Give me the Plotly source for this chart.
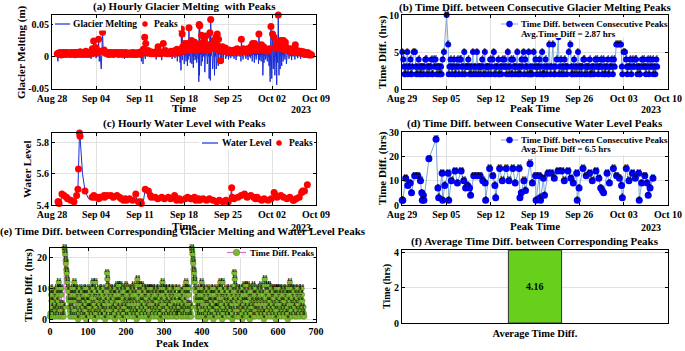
import plotly.graph_objects as go
import pandas as pd

FONT = "Liberation Serif"

# ---------------- (a)/(b) Glacier melting peaks ----------------
# hours between consecutive glacier-melting peaks (panel b values)
b_diffs = [
    5,4,3,2,2,3,5, 2,3,3,4,2,2,3,5, 5,3,2,3,2,4,3,2, 3,2,3,3,2,3,4,4,
    2,3,3,2,3,3,4,2,2, 4,3,4,3,2,3,3,2, 3,2,3,2,4,5, 10,6,
    2,3,4,3,2,3,4,3, 2,2,3,4,3,2,4,4, 3,2,3,5,2,3,3,3, 4,3,2,3,2,3,5,2,
    3,3,2,5,3,2,3,3, 2,3,4,3,2,5,2,3, 3,3,2,3,4,2,3,4, 5,2,3,2,3,3,4,2,
    2,3,3,2,4,3,4,3, 3,2,5,3,2,3,4,2, 2,4,3,3,2,3,5,2, 3,2,3,2,4,3,5,2,
    4,3,3,2,5,2,3,2, 2,3,2,5,3,4,3,2, 3,3,4,2,3,5,2,2,
    3,2,4,3,2,3,6, 3,2,3,6, 3,2,2,3,4,7, 2,3,4,2,3,3,2,4,3, 3,2,3,5,6,3,2,
    2,3,4,2,3,3,2,5, 3,2,3,3,2,3,4,4, 2,3,3,2,3,3,4,2,2, 3,2,3,3,2,4,3,4,
    3,2,3,3,4,3,2,4, 3,2,2,3,3,4,2, 2,3,3,4,3,2,4,3, 6,6,6,6, 3,2,5,5,4,3,
    2,3,3,4,3,2,4,3, 3,4,4,3,2,3,3,2, 2,3,4,3,4,3, 3,2,3,4,3,2,4,3,
    3,4,2,3,3,2,4,3,
]
# glacier melting value (m) at each peak (panel a red markers)
a_peaks = [
    0.004,
    0.005,0.003,0.006,0.004,0.002,0.005,0.006,
    0.004,0.006,0.003,0.005,0.006,0.004,0.005,0.003,
    0.006,0.004,0.005,0.003,0.006,0.005,0.004,0.006,
    0.005,0.003,0.006,0.004,0.005,0.007,0.003,0.005,
    0.004,0.006,0.005,0.003,0.008,0.005,0.004,0.006,0.003,
    0.005,0.007,0.004,0.012,0.006,0.024,0.005,0.007,
    0.014,0.006,0.009,0.005,0.027,0.008,
    0.038,0.010,
    0.007,0.005,0.006,0.004,0.005,0.003,0.006,0.004,
    0.005,0.004,0.006,0.003,0.005,0.004,0.006,0.005,
    0.004,0.006,0.003,0.005,0.004,0.006,0.005,0.003,
    0.005,0.003,0.006,0.004,0.005,0.003,0.005,0.004,
    0.004,0.005,0.003,0.006,0.004,0.005,0.003,0.005,
    0.003,0.005,0.004,0.006,0.005,0.003,0.007,0.005,
    0.006,0.011,0.007,0.030,0.020,0.007,0.005,0.009,
    0.006,0.005,0.007,0.004,0.005,0.006,0.004,0.005,
    0.005,0.007,0.004,0.006,0.015,0.005,0.007,0.004,
    0.006,0.005,0.020,0.007,0.005,0.009,0.006,0.004,
    0.005,0.006,0.004,0.007,0.005,0.008,0.006,0.005,
    0.007,0.005,0.009,0.006,0.011,0.005,0.008,0.006,
    0.010,0.043,0.035,0.015,0.008,0.020,0.012,0.009,
    0.012,0.020,0.009,0.045,0.015,0.010,0.025,0.012,
    0.015,0.010,0.022,0.012,0.018,0.010,0.015,0.010,
    0.050,0.048,0.020,0.033,0.015,0.012,0.025,
    0.010,0.032,0.015,0.012,
    0.018,0.010,0.037,0.058,0.015,0.020,
    0.025,0.012,0.030,0.020,0.035,0.010,0.027,0.015,-0.007,
    0.012,0.008,0.015,0.010,0.013,0.008,0.010,
    0.008,0.006,0.010,0.007,0.008,0.006,0.009,0.007,
    0.008,0.010,0.007,0.009,0.006,0.012,0.008,0.010,
    0.009,0.007,0.027,0.010,0.008,0.012,0.007,0.009,0.008,
    0.010,0.008,0.012,0.009,0.011,0.008,0.015,0.010,
    0.020,0.012,0.010,0.020,0.015,0.009,0.012,0.010,
    0.035,0.015,0.012,0.010,0.018,0.012,0.010,
    0.015,0.010,0.012,0.009,0.011,0.008,0.010,0.012,
    0.047,0.035,0.030,0.015,
    0.012,0.022,0.065,0.018,0.025,0.012,
    0.020,0.012,0.025,0.010,0.022,0.015,0.010,0.012,
    0.009,0.008,0.012,0.007,0.010,0.008,0.009,0.006,
    0.008,0.018,0.007,0.009,0.006,0.008,
    0.007,0.005,0.008,0.006,0.004,0.007,0.005,0.003,
    0.004,0.006,0.003,0.005,0.004,0.002,0.003,0.002,
]
# lowest glacier melting value between consecutive peaks (m)
a_troughs = [
    -0.008,0.001,0.002,0.000,0.001,0.001,0.002,
    0.001,0.000,0.001,0.001,0.002,0.001,0.000,0.001,
    0.001,0.002,0.000,0.001,0.000,0.002,-0.003,0.001,
    0.002,0.000,0.001,0.001,0.000,0.001,0.000,0.002,
    0.001,0.002,0.000,0.001,0.001,0.002,0.000,0.001,0.002,
    0.000,0.002,-0.004,0.001,0.002,0.000,0.001,0.000,
    0.002,-0.003,0.001,0.000,0.002,-0.008,
    -0.020,0.001,
    0.002,0.000,0.001,0.001,0.002,0.000,0.001,-0.002,
    0.001,0.002,0.000,0.001,0.000,0.002,0.000,0.001,
    0.002,0.000,0.001,0.000,0.002,0.001,0.000,0.002,
    0.001,-0.004,0.002,0.000,0.001,0.002,0.000,0.001,
    0.002,0.000,0.001,0.002,0.000,0.001,0.000,0.002,
    0.000,0.001,0.000,0.002,0.000,0.001,0.002,-0.008,
    0.001,-0.012,0.002,0.000,-0.004,0.001,0.002,0.000,
    0.002,0.000,0.001,0.000,0.002,0.000,0.001,0.002,
    0.000,0.002,-0.005,0.001,0.000,0.002,0.001,0.000,
    0.002,-0.006,0.000,0.001,0.000,0.002,0.000,0.001,
    0.001,0.000,0.002,0.000,0.001,0.000,-0.004,0.002,
    0.000,0.002,-0.003,0.001,0.000,-0.008,0.002,0.000,
    -0.010,-0.022,0.001,-0.006,0.002,-0.012,0.000,0.001,
    -0.008,0.002,-0.015,-0.005,0.001,-0.010,0.000,-0.012,
    0.001,-0.018,0.000,-0.006,0.002,-0.010,0.001,-0.004,
    -0.040,-0.030,0.002,-0.015,0.001,-0.008,0.000,
    -0.025,-0.005,0.001,-0.012,
    0.000,-0.035,-0.010,-0.038,0.001,-0.020,
    0.002,-0.030,0.000,-0.020,-0.008,0.001,-0.015,0.002,-0.005,
    0.001,-0.006,0.000,-0.010,0.002,-0.004,0.001,
    0.000,0.002,-0.005,0.001,0.000,-0.003,0.002,0.000,
    0.001,-0.004,0.002,0.000,-0.006,0.001,0.000,0.002,
    0.000,0.002,-0.008,0.001,0.000,-0.005,0.002,0.001,0.000,
    -0.004,0.001,0.000,-0.006,0.002,0.000,-0.003,0.001,
    -0.008,0.000,0.002,-0.010,0.001,-0.005,0.000,0.002,
    -0.012,0.001,-0.006,0.000,-0.008,0.002,-0.030,
    0.000,-0.010,0.001,-0.005,0.002,-0.008,0.000,-0.015,
    -0.040,-0.035,-0.020,-0.030,
    0.001,-0.045,-0.010,-0.030,-0.020,0.000,
    -0.015,0.002,-0.008,0.000,-0.005,0.001,-0.012,0.000,
    0.002,-0.004,0.000,0.001,-0.006,0.002,0.000,0.001,
    0.000,-0.005,0.002,0.000,-0.003,0.001,
    0.001,0.000,-0.004,0.002,0.000,0.001,-0.002,0.000,
    0.001,0.000,0.002,-0.003,0.001,0.000,0.001,0.000,
]
a_start = "2023-08-28 20:00"

# ---------------- (c)/(d) Water level peaks ----------------
d_diffs = [2,2,11,8,9,5,12,12,10,5,2,4,2,19,27,7,3,13,2,8,13,2,10,14,9,14,10,7,8,7,
           4,12,12,12,10,9,2,15,12,8,3,15,10,15,10,15,9,15,3,5,10,6,17,9,12,2,12,3,2,11,
           4,13,13,11,14,14,10,14,11,9,13,2,7,15,12,13,10,14,11,7,6,5,13,9,15,12,11,8,3,15,
           10,13,11,13,2,9,12,9,4,7,11]
c_peaks = [5.42,5.42,5.41,5.47,5.46,5.45,5.44,5.43,5.42,5.46,5.50,5.63,5.86,5.84,5.49,
           5.45,5.46,5.45,5.45,5.44,5.45,5.46,5.45,5.46,5.46,5.45,5.46,5.45,5.44,5.43,
           5.44,5.43,5.44,5.43,5.47,5.42,5.42,5.41,5.50,5.49,5.46,5.45,5.45,5.44,5.45,
           5.44,5.45,5.44,5.46,5.45,5.43,5.44,5.43,5.44,5.45,5.44,5.44,5.45,5.44,5.43,
           5.44,5.43,5.44,5.43,5.44,5.43,5.42,5.43,5.42,5.43,5.42,5.51,5.45,5.44,5.45,
           5.46,5.47,5.45,5.46,5.45,5.44,5.45,5.44,5.43,5.44,5.43,5.44,5.48,5.46,5.45,
           5.46,5.45,5.44,5.45,5.43,5.43,5.44,5.45,5.48,5.49,5.49,5.53]
c_troughs = [5.41,5.405,5.41,5.45,5.44,5.43,5.42,5.41,5.42,5.46,5.55,5.62,5.83,5.60,5.44,
             5.44,5.44,5.43,5.43,5.44,5.44,5.44,5.44,5.44,5.43,5.44,5.43,5.42,5.43,5.42,
             5.42,5.42,5.42,5.42,5.41,5.41,5.41,5.42,5.48,5.45,5.44,5.43,5.43,5.43,5.43,
             5.43,5.43,5.44,5.43,5.42,5.43,5.42,5.42,5.43,5.43,5.43,5.43,5.43,5.42,5.42,
             5.42,5.42,5.42,5.42,5.42,5.41,5.41,5.41,5.41,5.41,5.42,5.44,5.43,5.44,5.44,
             5.45,5.44,5.44,5.44,5.43,5.43,5.43,5.42,5.42,5.42,5.42,5.45,5.45,5.44,5.44,
             5.44,5.43,5.43,5.42,5.42,5.42,5.43,5.44,5.47,5.48,5.48]
c_start = "2023-08-28 23:00"

# ---------------- (e) corresponding peak time differences (hrs) ----------------
e_first_half = [
    1,2, 10,8,6,4,2, 8,6,3,1, 9,7,5,3,1, 4,2, 10,8,6,3,1, 12,10,8,5,3,1, 10,8,5,3,1, 5,2, 1, 4,
    23,22,21,19,18,16,15,13,12,10,9,7,6,4,3,1,
    2, 8,6,4,1, 10,8,6,3,1, 12,10,8,6,3,1, 9,7,5,2,0, 10,8,5,3,1, 7,5,2, 9,6,4,1, 10,8,6,3,1,
    8,5,3,0, 10,8,6,4,2, 6,4,1, 9,7,4,2, 10,8,5,3,1, 12,10,7,5,2,0, 12,9,7,4,2, 8,6,3,1,
    10,7,5,2, 9,6,4,1, 3,1, 10,8,5,3, 7,5,2,0, 9,6,3,1,
    15,13,11,9,7,5,3,1, 10,8,6,3,1, 9,7,4,2, 10,8,5,3,0, 8,6,3,1, 11,9,6,4,2, 11,8,6,3,1,
    11,9,7,4,2,0, 10,7,5,2, 9,6,4,1, 11,8,5,3,1, 10,8,6,3, 7,5,2, 9,6,3,1, 10,8,5,2,
    11,9,6,3,1, 8,5,2,0, 2,
    13,11,9,7,5,3,1, 11,9,6,4,2, 11,8,6,3,1, 10,7,5,2, 9,7,4,1, 10,8,5,3,0, 10,8,6,3,1,
    10,7,5,2, 10,8,5,3,1, 9,6,4,2, 10,8,6,3,1, 9,7,4,2, 10,8,5,2,0, 8,6,3,1,
    12,10,8,5,3,1, 10,7,5,2, 9,6,4,1, 10,8,5,3,1, 7,5,2, 10,8,6,3,1, 9,7,4,2, 10,8,6,3,1, 4,2, 1,
]
e_second_half = list(e_first_half)  # the second half of the plot repeats the first
e_vals = e_first_half + e_second_half

# ---------------- (f) average ----------------
f_cats = ["Average Time Diff."]
f_vals = [4.16]

b_legend = ["Time Diff. between Consecutive Peaks", "Avg.Time Diff = 2.87 hrs"]
d_legend = ["Time Diff. between Consecutive Peaks", "Avg.Time Diff = 6.5 hrs"]

# ---------------- derived series ----------------
def peak_times(start, diffs):
    t = [pd.Timestamp(start)]
    for d in diffs:
        t.append(t[-1] + pd.Timedelta(hours=d))
    return t

def peak_line(times, diffs, peaks, troughs):
    xs, ys = [], []
    for i, (d, p, tr) in enumerate(zip(diffs, peaks, troughs)):
        xs.append(times[i]); ys.append(p)
        xs.append(times[i] + pd.Timedelta(hours=d / 2)); ys.append(tr)
    n = min(len(times), len(peaks))
    xs.append(times[n - 1]); ys.append(peaks[n - 1])
    return xs, ys

a_t = peak_times(a_start, b_diffs)
a_lx, a_ly = peak_line(a_t, b_diffs, a_peaks, a_troughs)
c_t = peak_times(c_start, d_diffs)
c_lx, c_ly = peak_line(c_t, d_diffs, c_peaks, c_troughs)

W, H = 685, 351
def px(x):
    return x / W
def py(y):
    return 1 - y / H

fig = go.Figure()
BLUE_LINE = "rgb(25,45,215)"
RED = "rgb(255,0,0)"
LBLUE = "rgb(120,170,215)"
BLUE = "rgb(0,0,245)"
PINK = "rgb(225,110,205)"
GREEN = "rgb(125,185,50)"
DGREEN = "rgb(85,130,30)"

# (a)
fig.add_trace(go.Scatter(x=a_lx, y=a_ly, mode="lines", showlegend=False,
                         line=dict(color=BLUE_LINE, width=1), xaxis="x", yaxis="y"))
n_a = min(len(a_t), len(a_peaks))
fig.add_trace(go.Scatter(x=a_t[:n_a], y=a_peaks[:n_a], mode="markers", showlegend=False,
                         marker=dict(color=RED, size=7), xaxis="x", yaxis="y", cliponaxis=False))
# (b)
fig.add_trace(go.Scatter(x=a_t[1:], y=b_diffs, mode="lines+markers", showlegend=False,
                         line=dict(color=LBLUE, width=1), marker=dict(color=BLUE, size=6),
                         xaxis="x2", yaxis="y2", cliponaxis=False))
fig.add_trace(go.Scatter(x=a_t[1:], y=b_diffs, mode="text", showlegend=False,
                         text=[str(v) for v in b_diffs], textposition="top center",
                         textfont=dict(size=5, color="black"),
                         xaxis="x2", yaxis="y2", cliponaxis=False))
# (c)
fig.add_trace(go.Scatter(x=c_lx, y=c_ly, mode="lines", showlegend=False,
                         line=dict(color=BLUE_LINE, width=1), xaxis="x3", yaxis="y3"))
n_c = min(len(c_t), len(c_peaks))
fig.add_trace(go.Scatter(x=c_t[:n_c], y=c_peaks[:n_c], mode="markers", showlegend=False,
                         marker=dict(color=RED, size=7), xaxis="x3", yaxis="y3", cliponaxis=False))
# (d)
fig.add_trace(go.Scatter(x=c_t[1:], y=d_diffs, mode="lines+markers", showlegend=False,
                         line=dict(color=LBLUE, width=1), marker=dict(color=BLUE, size=7),
                         xaxis="x4", yaxis="y4", cliponaxis=False))
fig.add_trace(go.Scatter(x=c_t[1:], y=d_diffs, mode="text", showlegend=False,
                         text=[str(v) for v in d_diffs], textposition="top center",
                         textfont=dict(size=5, color="black"),
                         xaxis="x4", yaxis="y4", cliponaxis=False))
# (e)
e_idx = list(range(len(e_vals)))
fig.add_trace(go.Scatter(x=e_idx, y=e_vals, mode="lines+markers", showlegend=False,
                         line=dict(color=PINK, width=1),
                         marker=dict(color=GREEN, size=5.5, line=dict(color=DGREEN, width=0.5)),
                         xaxis="x5", yaxis="y5", cliponaxis=False))
fig.add_trace(go.Scatter(x=e_idx, y=e_vals, mode="text", showlegend=False,
                         text=[str(v) for v in e_vals], textposition="top center",
                         textfont=dict(size=5, color="black"),
                         xaxis="x5", yaxis="y5", cliponaxis=False))
# (f)
fig.add_trace(go.Bar(x=[1], y=f_vals, width=0.4, marker=dict(color="rgb(102,208,26)",
                     line=dict(color="rgb(50,50,50)", width=1)), showlegend=False,
                     xaxis="x6", yaxis="y6"))

TICKF = dict(family=FONT, size=10, color="black", weight="bold")
def axis(domain, anchor, **kw):
    d = dict(domain=domain, anchor=anchor, showline=True, linecolor="black", linewidth=1,
             mirror="ticks", ticks="inside", ticklen=3, tickcolor="black", showgrid=True,
             gridcolor="rgb(225,225,225)", gridwidth=1, zeroline=False, tickfont=TICKF,
             automargin=False)
    d.update(kw)
    return d

WEEK = 7 * 24 * 3600 * 1000
xa_dom = [px(52), px(316)]
xb_dom = [px(402), px(668)]

fig.update_layout(
    width=W, height=H, margin=dict(l=0, r=0, t=0, b=0, autoexpand=False),
    paper_bgcolor="white", plot_bgcolor="white", showlegend=False,
    font=dict(family=FONT, size=10, color="black", weight="bold"),
    xaxis=axis(xa_dom, "y", type="date", range=["2023-08-28", "2023-10-09"],
               tick0="2023-08-28", dtick=WEEK, tickformat="%b %d"),
    yaxis=axis([py(89), py(15)], "x", range=[-0.0515, 0.065], tickvals=[-0.05, 0, 0.05],
               ticktext=["-0.05", "0", "0.05"]),
    xaxis2=axis(xb_dom, "y2", type="date", range=["2023-08-29", "2023-10-10"],
                tick0="2023-08-29", dtick=WEEK, tickformat="%b %d"),
    yaxis2=axis([py(89), py(15)], "x2", range=[0, 10], tickvals=[0, 5, 10]),
    xaxis3=axis(xa_dom, "y3", type="date", range=["2023-08-28", "2023-10-09"],
                tick0="2023-08-28", dtick=WEEK, tickformat="%b %d"),
    yaxis3=axis([py(205), py(133)], "x3", range=[5.4, 5.86], tickvals=[5.4, 5.6, 5.8]),
    xaxis4=axis(xb_dom, "y4", type="date", range=["2023-08-29", "2023-10-10"],
                tick0="2023-08-29", dtick=WEEK, tickformat="%b %d"),
    yaxis4=axis([py(205), py(132)], "x4", range=[0, 30], tickvals=[0, 10, 20, 30]),
    xaxis5=axis([px(50), px(316)], "y5", range=[0, 700],
                tickvals=[0, 100, 200, 300, 400, 500, 600, 700]),
    yaxis5=axis([py(322), py(248)], "x5", range=[-0.8, 23], tickvals=[0, 10, 20]),
    xaxis6=axis(xb_dom, "y6", range=[0, 2], tickvals=[1], ticktext=f_cats, showgrid=False,
                ticks="", tickfont=dict(family=FONT, size=10.5, color="black", weight="bold")),
    yaxis6=axis([py(323), py(250)], "x6", range=[0, 4.16], tickvals=[0, 2, 4]),
    barmode="overlay",
)

def ann(text, x, y, size=11, angle=0, xanchor="center"):
    fig.add_annotation(text=text, x=px(x), y=py(y), xref="paper", yref="paper",
                       showarrow=False, textangle=angle, xanchor=xanchor, yanchor="middle",
                       font=dict(family=FONT, size=size, color="black", weight="bold"))

# legend boxes and keys (drawn as in the MATLAB legends)
def key_box(x0, x1, y0, y1):
    fig.add_shape(type="rect", xref="paper", yref="paper", x0=px(x0), x1=px(x1),
                  y0=py(y1), y1=py(y0), fillcolor="white", line=dict(width=0), layer="above")

def key_line(x0, x1, y, color, width=1.2):
    fig.add_shape(type="line", xref="paper", yref="paper", x0=px(x0), x1=px(x1),
                  y0=py(y), y1=py(y), line=dict(color=color, width=width), layer="above")

def key_dot(cx, cy, r, color, edge=None):
    fig.add_shape(type="circle", xref="paper", yref="paper", x0=px(cx - r), x1=px(cx + r),
                  y0=py(cy + r), y1=py(cy - r), fillcolor=color,
                  line=dict(color=edge or color, width=0.6), layer="above")

key_box(53, 181, 18, 30.5)
key_line(55, 70, 24, BLUE_LINE)
ann("Glacier Melting", 71, 24, size=9.5, xanchor="left")
key_dot(145, 24, 2.5, RED)
ann("Peaks", 152, 24, size=9.5, xanchor="left")

key_box(498, 667, 17, 38)
key_line(501, 518, 24, LBLUE, 1)
key_dot(509.5, 24, 3, BLUE)
ann(b_legend[0], 519, 24, size=9, xanchor="left")
ann(b_legend[1], 519, 34, size=9, xanchor="left")

key_box(199, 314, 136.5, 149.5)
key_line(202, 218, 143, BLUE_LINE)
ann("Water Level", 220, 143, size=9.5, xanchor="left")
key_dot(279, 143, 2.5, RED)
ann("Peaks", 287, 143, size=9.5, xanchor="left")

key_box(498, 667, 134, 155)
key_line(501, 518, 140, LBLUE, 1)
key_dot(509.5, 140, 3, BLUE)
ann(d_legend[0], 519, 140, size=9, xanchor="left")
ann(d_legend[1], 519, 149, size=9, xanchor="left")

key_box(223, 314, 249, 257.5)
key_line(227, 246, 252.5, PINK, 1.2)
key_dot(236.5, 252.5, 3.2, GREEN, DGREEN)
ann("Time Diff. Peaks", 248, 252.5, size=9, xanchor="left")

# titles
ann("(a) Hourly Glacier Melting  with Peaks", 184, 6)
ann("(b) Time Diff. between Consecutive Glacier Melting Peaks", 535, 7)
ann("(c) Hourly Water Level with Peaks", 184, 124)
ann("(d) Time Diff. between Consecutive Water Level Peaks", 535, 124)
ann("(e) Time Diff. between Corresponding Glacier Melting and Water Level Peaks", 183, 232)
ann("(f) Average Time Diff. between Corresponding Peaks", 535, 241)
# axis titles
ann("Glacier Melting (m)", 21, 52, angle=-90)
ann("Time", 184, 108)
ann("2023", 301, 109, size=10)
ann("Time Diff. (hrs)", 382, 52, angle=-90)
ann("Peak Time", 535, 108)
ann("2023", 651, 109, size=10)
ann("Water Level", 27, 169, angle=-90)
ann("Time", 184, 226)
ann("2023", 301, 227, size=10)
ann("Time Diff. (hrs)", 382, 168, angle=-90)
ann("Peak Time", 535, 226)
ann("2023", 651, 227, size=10)
ann("Time Diff. (hrs)", 28, 285, angle=-90)
ann("Peak Index", 183, 343)
ann("Time (hrs)", 387, 286, size=10, angle=-90)
# bar value label
fig.add_annotation(text=f"{f_vals[0]:.2f}", x=1, y=f_vals[0] / 2, xref="x6", yref="y6",
                   showarrow=False, font=dict(family=FONT, size=10, color="black", weight="bold"))

# remove the default page margin so the figure sits at the window's top-left corner
fig.write_html("out.html", config={"displayModeBar": False},
               post_script="document.body.style.margin='0px';")
